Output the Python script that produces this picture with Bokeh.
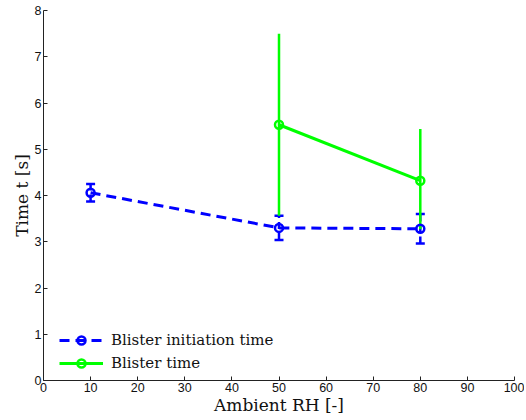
from bokeh.plotting import figure
from bokeh.models import ColumnDataSource, Whisker, TeeHead, Legend, LegendItem, Range1d, FixedTicker
from bokeh.embed import file_html
from bokeh.resources import INLINE

# Data
rh_init = [10, 50, 80]
t_init = [4.06, 3.30, 3.28]
err_init = [0.19, 0.26, 0.32]

rh_blister = [50, 80]
t_blister = [5.53, 4.32]
err_blister_up = [1.97, 1.12]
err_blister_lo = [1.97, 1.05]

x_ticks = [0, 10, 20, 30, 40, 50, 60, 70, 80, 90, 100]
y_ticks = [0, 1, 2, 3, 4, 5, 6, 7, 8]

BLUE = "#0000FF"
GREEN = "#00FF00"

src_i = ColumnDataSource(dict(
    x=rh_init, y=t_init,
    up=[a + b for a, b in zip(t_init, err_init)],
    lo=[a - b for a, b in zip(t_init, err_init)],
))
src_b = ColumnDataSource(dict(
    x=rh_blister, y=t_blister,
    up=[a + b for a, b in zip(t_blister, err_blister_up)],
    lo=[a - b for a, b in zip(t_blister, err_blister_lo)],
))

p = figure(width=524, height=418, output_backend="svg", toolbar_location=None,
           x_range=Range1d(0, 100), y_range=Range1d(0, 8),
           min_border_left=43, min_border_right=10, min_border_top=10, min_border_bottom=38)
p.outline_line_color = None
p.grid.visible = False
p.background_fill_color = "white"

for ax in (p.xaxis[0], p.yaxis[0]):
    ax.major_tick_in = 4
    ax.major_tick_out = 0
    ax.minor_tick_in = 0
    ax.minor_tick_out = 0
    ax.axis_line_color = "#222222"
    ax.major_tick_line_color = "#222222"
    ax.major_label_text_font = "Liberation Sans"
    ax.major_label_text_font_size = "12.5px"
    ax.major_label_text_color = "#111111"
    ax.axis_label_text_font = "DejaVu Serif"
    ax.axis_label_text_font_size = "17px"
    ax.axis_label_text_font_style = "normal"
    ax.axis_label_text_color = "#111111"
    ax.major_label_standoff = 2
    ax.axis_label_standoff = 0

p.xaxis.ticker = FixedTicker(ticks=x_ticks)
p.yaxis.ticker = FixedTicker(ticks=y_ticks)
p.xaxis.axis_label = "Ambient RH [-]"
p.yaxis.axis_label = "Time t [s]"

# error bars
w_i = Whisker(source=src_i, base="x", upper="up", lower="lo",
              line_color=BLUE, line_width=2.5, line_dash="7 4",
              upper_head=TeeHead(size=9, line_color=BLUE, line_width=2.5),
              lower_head=TeeHead(size=9, line_color=BLUE, line_width=2.5))
p.add_layout(w_i)

w_b = Whisker(source=src_b, base="x", upper="up", lower="lo",
              line_color=GREEN, line_width=2.5,
              upper_head=None, lower_head=None)
p.add_layout(w_b)

l_i = p.line("x", "y", source=src_i, line_color=BLUE, line_width=3, line_dash="10 6")
m_i = p.scatter("x", "y", source=src_i, marker="circle", size=8, line_color=BLUE,
                line_width=2.5, fill_color=None)
l_b = p.line("x", "y", source=src_b, line_color=GREEN, line_width=3)
m_b = p.scatter("x", "y", source=src_b, marker="circle", size=8, line_color=GREEN,
                line_width=2.5, fill_color=None)

legend = Legend(items=[
    LegendItem(label="Blister initiation time", renderers=[l_i, m_i]),
    LegendItem(label="Blister time", renderers=[l_b, m_b]),
], location=(16, 7))
legend.border_line_color = None
legend.background_fill_alpha = 0
legend.label_text_font = "DejaVu Serif"
legend.label_text_font_size = "15px"
legend.label_text_color = "#111111"
legend.glyph_width = 44
legend.glyph_height = 20
legend.spacing = 3
legend.label_standoff = 8
legend.padding = 7
legend.margin = 0
p.add_layout(legend)

open("out.html", "w").write(file_html(p, INLINE))
